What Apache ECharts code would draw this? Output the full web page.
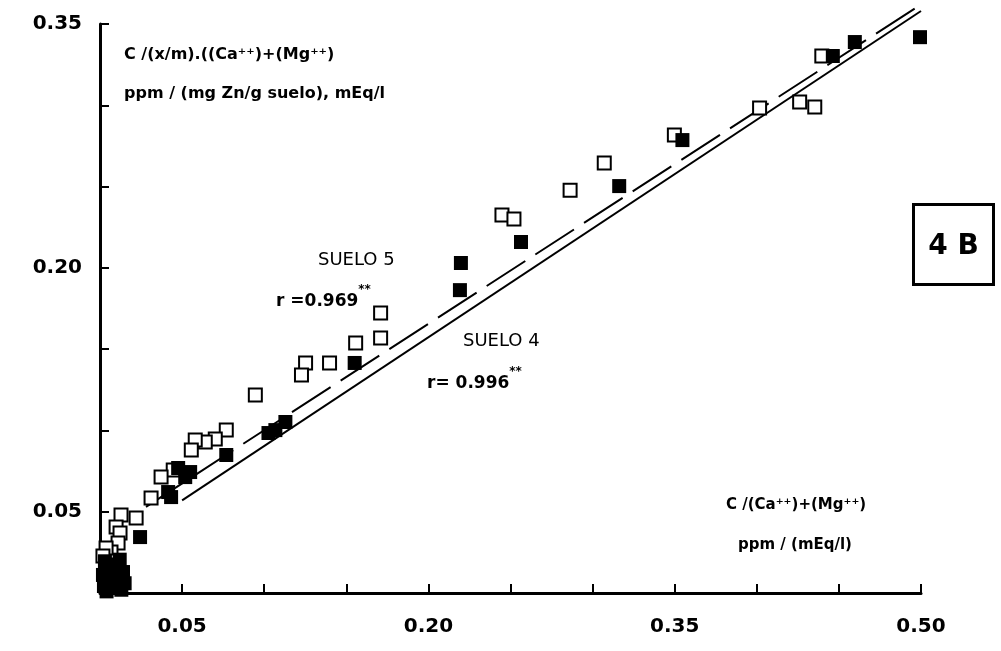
<!DOCTYPE html>
<html>
<head>
<meta charset="utf-8">
<title>4B</title>
<script src="https://cdn.jsdelivr.net/npm/echarts@6/dist/echarts.min.js"></script>
<style>
    html, body { margin: 0; padding: 0; background: #fff; }
    #main { width: 1001px; height: 651px; }
</style>
</head>
<body>
<div id="main"></div>
<script>
var myChart = echarts.init(document.getElementById('main'));

// open squares - suelo 5
var suelo5 = [
    [0.4396, 0.3303], [0.4261, 0.3020], [0.4353, 0.2989], [0.4017, 0.2983],
    [0.3498, 0.2817], [0.3071, 0.2645], [0.2863, 0.2478], [0.2448, 0.2325],
    [0.2521, 0.2300], [0.1709, 0.1722], [0.1709, 0.1568], [0.1557, 0.1538],
    [0.1398, 0.1415], [0.1252, 0.1415], [0.1227, 0.1341], [0.0946, 0.1218],
    [0.0769, 0.1002], [0.0702, 0.0947], [0.0641, 0.0929], [0.0580, 0.0941],
    [0.0556, 0.0879], [0.0446, 0.0756], [0.0372, 0.0713], [0.0311, 0.0584],
    [0.0220, 0.0461], [0.0128, 0.0480], [0.0098, 0.0406], [0.0122, 0.0369],
    [0.0110, 0.0308], [0.0067, 0.0252], [0.0037, 0.0277], [0.0018, 0.0228]
];
// filled squares - suelo 4
var suelo4 = [
    [0.4994, 0.3419], [0.4597, 0.3389], [0.4463, 0.3303], [0.3547, 0.2786],
    [0.3162, 0.2503], [0.2564, 0.2159], [0.2198, 0.2030], [0.2192, 0.1863],
    [0.1551, 0.1415], [0.1129, 0.1052], [0.1068, 0.1002], [0.1026, 0.0984],
    [0.0769, 0.0849], [0.0549, 0.0744], [0.0519, 0.0713], [0.0476, 0.0769],
    [0.0433, 0.0590], [0.0415, 0.0621], [0.0244, 0.0344], [0.0061, 0.0172],
    [0.0098, 0.0141], [0.0049, 0.0092], [0.0110, 0.0080], [0.0024, 0.0043],
    [0.0079, 0.0031], [0.0140, 0.0129], [0.0018, 0.0111], [0.0030, 0.0195],
    [0.0120, 0.0205], [0.0150, 0.0060], [0.0045, 0.0150], [0.0100, 0.0110],
    [0.0040, 0.0010], [0.0130, 0.0020]
];
// regression lines
var fit5 = [[0.028, 0.053], [0.497, 0.360]];
var fit4 = [[0.050, 0.057], [0.500, 0.358]];

var xTickLabels = ['0.05', '0.20', '0.35', '0.50'];
var yTickLabels = ['0.05', '0.20', '0.35'];

var style = {
    font: '"DejaVu Sans", sans-serif',
    ink: '#000'
};

var rValue = {
    a: { fill: style.ink, fontFamily: 'DejaVu Sans', fontWeight: 'bold', fontSize: 17, lineHeight: 26, verticalAlign: 'bottom' },
    s: { fill: style.ink, fontFamily: 'DejaVu Sans', fontWeight: 'bold', fontSize: 12, lineHeight: 26, verticalAlign: 'top' }
};

var option = {
    backgroundColor: '#fff',
    animation: false,
    grid: {
        left: 100,
        right: 80,
        top: 24,
        bottom: 58
    },
    xAxis: {
        type: 'value',
        min: 0,
        max: 0.5,
        interval: 0.05,
        splitLine: { show: false },
        axisLine: { lineStyle: { color: style.ink, width: 3 } },
        axisTick: { inside: true, length: 9, lineStyle: { color: style.ink, width: 2 } },
        axisLabel: {
            margin: 24,
            color: style.ink,
            fontFamily: style.font,
            fontWeight: 'bold',
            fontSize: 20,
            formatter: function (v) {
                var s = v.toFixed(2);
                return xTickLabels.indexOf(s) >= 0 ? s : '';
            }
        }
    },
    yAxis: {
        type: 'value',
        min: 0,
        max: 0.35,
        interval: 0.05,
        splitLine: { show: false },
        axisLine: { lineStyle: { color: style.ink, width: 3 } },
        axisTick: { inside: true, length: 9, lineStyle: { color: style.ink, width: 2 } },
        axisLabel: {
            margin: 18,
            color: style.ink,
            fontFamily: style.font,
            fontWeight: 'bold',
            fontSize: 20,
            formatter: function (v) {
                var s = v.toFixed(2);
                return yTickLabels.indexOf(s) >= 0 ? s : '';
            }
        }
    },
    graphic: {
        elements: [
            {
                type: 'text', left: 124, top: 47,
                style: { text: 'C /(x/m).((Ca⁺⁺)+(Mg⁺⁺)', fill: style.ink, font: 'bold 16px "DejaVu Sans"' }
            },
            {
                type: 'text', left: 124, top: 86,
                style: { text: 'ppm / (mg Zn/g suelo), mEq/l', fill: style.ink, font: 'bold 16px "DejaVu Sans"' }
            },
            {
                type: 'text', left: 318, top: 251,
                style: { text: 'SUELO 5', fill: style.ink, font: '18px "DejaVu Sans"' }
            },
            {
                type: 'text', left: 276, top: 284,
                style: { text: '{a|r =0.969}{s|**}', rich: rValue }
            },
            {
                type: 'text', left: 463, top: 332,
                style: { text: 'SUELO 4', fill: style.ink, font: '18px "DejaVu Sans"' }
            },
            {
                type: 'text', left: 427, top: 366,
                style: { text: '{a|r= 0.996}{s|**}', rich: rValue }
            },
            {
                type: 'text', left: 726, top: 498,
                style: { text: 'C /(Ca⁺⁺)+(Mg⁺⁺)', fill: style.ink, font: 'bold 15px "DejaVu Sans"' }
            },
            {
                type: 'text', left: 738, top: 538,
                style: { text: 'ppm / (mEq/l)', fill: style.ink, font: 'bold 15px "DejaVu Sans"' }
            },
            {
                type: 'group',
                left: 912,
                top: 203,
                children: [
                    {
                        type: 'rect',
                        shape: { x: 0, y: 0, width: 80, height: 80 },
                        style: { fill: '#fff', stroke: style.ink, lineWidth: 3 }
                    },
                    {
                        type: 'text',
                        x: 40,
                        y: 42,
                        style: {
                            text: '4 B',
                            fill: style.ink,
                            font: 'bold 28px "DejaVu Sans"',
                            textAlign: 'center',
                            textVerticalAlign: 'middle'
                        }
                    }
                ]
            }
        ]
    },
    series: [
        {
            name: 'ajuste suelo 5',
            type: 'line',
            data: fit5,
            showSymbol: false,
            silent: true,
            clip: false,
            z: 1,
            lineStyle: { color: style.ink, width: 2, type: [46, 12] }
        },
        {
            name: 'ajuste suelo 4',
            type: 'line',
            data: fit4,
            showSymbol: false,
            silent: true,
            clip: false,
            z: 1,
            lineStyle: { color: style.ink, width: 2 }
        },
        {
            name: 'SUELO 5',
            type: 'scatter',
            data: suelo5,
            symbol: 'rect',
            symbolSize: 13,
            z: 3,
            itemStyle: { color: '#fff', borderColor: style.ink, borderWidth: 2, opacity: 1 }
        },
        {
            name: 'SUELO 4',
            type: 'scatter',
            data: suelo4,
            symbol: 'rect',
            symbolSize: 14,
            z: 4,
            itemStyle: { color: style.ink, opacity: 1 }
        }
    ]
};
myChart.setOption(option);
</script>
</body>
</html>
